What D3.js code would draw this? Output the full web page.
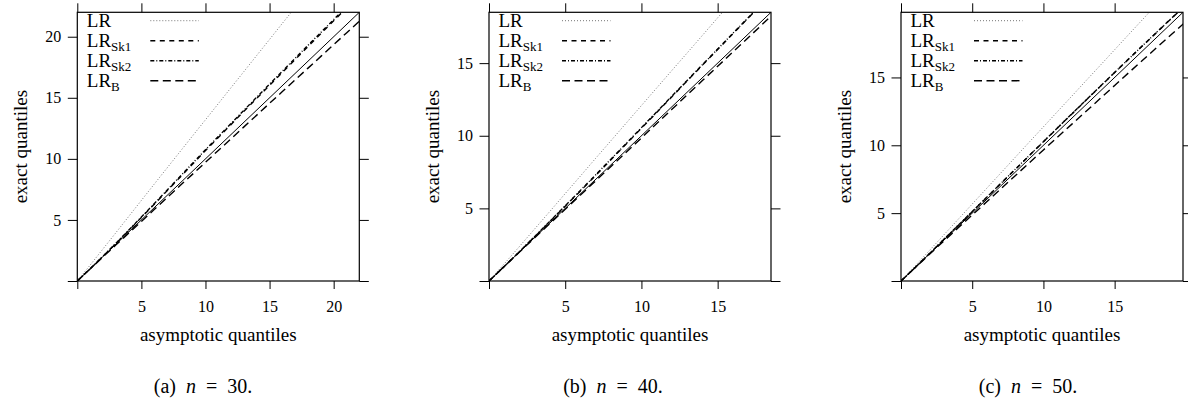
<!DOCTYPE html>
<html>
<head>
<meta charset="utf-8">
<script src="https://cdn.jsdelivr.net/npm/d3@7"></script>
<style>
  body { margin: 0; background: #fff; }
  svg { display: block; font-family: "Liberation Serif", "DejaVu Serif", serif; }
</style>
</head>
<body>
<svg id="chart" width="1188" height="404"></svg>
<script>
// panel captions / sample sizes
var panelNames = ["(a)", "(b)", "(c)"];
var sampleSizes = [30, 40, 50];
var axisMax = [22, 18.5, 19.8];
var tickValues = [[0, 5, 10, 15, 20], [0, 5, 10, 15], [0, 5, 10, 15]];

// legend
var seriesNames = ["LR", "LR_Sk1", "LR_Sk2", "LR_B"];

// n = 30 : asymptotic quantiles vs exact quantiles
var asym30 = [0, 1, 2, 3, 4, 5, 6, 7, 8, 9, 10, 11, 12, 13, 14, 15, 16, 17, 18, 19, 20, 21, 22];
var lr30   = [0, 1.30, 2.62, 3.94, 5.27, 6.60, 7.93, 9.25, 10.57, 11.89, 13.2, 14.52, 15.84, 17.15, 18.47, 19.78, 21.1, 22.4, 23.7, 25.0, 26.3, 27.6, 28.9];
var sk1_30 = [0, 1.0, 2.02, 3.06, 4.12, 5.2, 6.28, 7.38, 8.48, 9.58, 10.68, 11.75, 12.82, 13.9, 14.96, 16.02, 17.08, 18.14, 19.2, 20.25, 21.3, 22.35, 23.4];
var sk2_30 = [0, 1.0, 2.03, 3.08, 4.15, 5.24, 6.33, 7.43, 8.54, 9.65, 10.75, 11.83, 12.9, 13.98, 15.05, 16.12, 17.18, 18.24, 19.3, 20.35, 21.4, 22.45, 23.5];
var b30    = [0, 0.99, 1.97, 2.94, 3.91, 4.88, 5.85, 6.82, 7.79, 8.75, 9.72, 10.69, 11.65, 12.62, 13.58, 14.55, 15.51, 16.47, 17.43, 18.39, 19.35, 20.31, 21.27];

// n = 40
var asym40 = [0, 1, 2, 3, 4, 5, 6, 7, 8, 9, 10, 11, 12, 13, 14, 15, 16, 17, 18, 19];
var lr40   = [0, 1.18, 2.38, 3.59, 4.8, 6.02, 7.23, 8.45, 9.66, 10.87, 12.08, 13.29, 14.5, 15.7, 16.91, 18.12, 19.33, 20.5, 21.7, 22.9];
var sk1_40 = [0, 1.0, 2.02, 3.05, 4.1, 5.15, 6.2, 7.27, 8.35, 9.43, 10.52, 11.6, 12.69, 13.78, 14.86, 15.94, 17.02, 18.1, 19.18, 20.26];
var sk2_40 = [0, 1.0, 2.03, 3.07, 4.12, 5.18, 6.24, 7.31, 8.39, 9.47, 10.56, 11.64, 12.73, 13.81, 14.89, 15.97, 17.05, 18.13, 19.21, 20.29];
var b40    = [0, 1.0, 1.99, 2.98, 3.96, 4.94, 5.92, 6.9, 7.88, 8.87, 9.85, 10.84, 11.82, 12.81, 13.8, 14.78, 15.77, 16.75, 17.74, 18.72];

// n = 50
var asym50 = [0, 1, 2, 3, 4, 5, 6, 7, 8, 9, 10, 11, 12, 13, 14, 15, 16, 17, 18, 19, 20];
var lr50   = [0, 1.12, 2.25, 3.39, 4.53, 5.67, 6.81, 7.95, 9.09, 10.23, 11.36, 12.5, 13.63, 14.77, 15.9, 17.04, 18.18, 19.31, 20.45, 21.6, 22.7];
var sk1_50 = [0, 1.0, 2.02, 3.05, 4.08, 5.11, 6.14, 7.17, 8.2, 9.23, 10.26, 11.29, 12.31, 13.33, 14.35, 15.36, 16.37, 17.37, 18.37, 19.36, 20.35];
var sk2_50 = [0, 1.0, 2.03, 3.06, 4.09, 5.12, 6.15, 7.18, 8.21, 9.24, 10.27, 11.3, 12.32, 13.34, 14.36, 15.37, 16.38, 17.38, 18.38, 19.37, 20.36];
var b50    = [0, 0.99, 1.97, 2.94, 3.9, 4.86, 5.82, 6.78, 7.74, 8.7, 9.66, 10.61, 11.56, 12.51, 13.46, 14.41, 15.36, 16.3, 17.24, 18.18, 19.12];

var panels = [
  { asym: asym30, series: [lr30, sk1_30, sk2_30, b30] },
  { asym: asym40, series: [lr40, sk1_40, sk2_40, b40] },
  { asym: asym50, series: [lr50, sk1_50, sk2_50, b50] }
];

// line styles for LR, LR_Sk1, LR_Sk2, LR_B
var styles = [
  { stroke: "#666", width: 0.9, dash: "1,2" },
  { stroke: "#000", width: 1.4, dash: "5,4.5" },
  { stroke: "#000", width: 1.4, dash: "4,2,1,2" },
  { stroke: "#000", width: 1.4, dash: "8,4.5" }
];

var svg = d3.select("#chart");

var plotLefts = [77.3, 489, 901];
var captionX = [203, 613, 1028];
var plotW = 282, plotTop = 12.3, plotH = 268.7;

panels.forEach(function(p, k) {
  var L = plotLefts[k];
  var g = svg.append("g").attr("transform", "translate(" + L + "," + plotTop + ")");

  var x = d3.scaleLinear().domain([0, axisMax[k]]).range([0, plotW]);
  var y = d3.scaleLinear().domain([0, axisMax[k]]).range([plotH, 0]);

  var fmt = function(d) { return d === 0 ? "" : d; };

  // axes on all four sides, labels only left and bottom
  var xb = g.append("g").attr("transform", "translate(0," + plotH + ")")
    .call(d3.axisBottom(x).tickValues(tickValues[k]).tickFormat(fmt).tickSize(8).tickPadding(11.5));
  var xt = g.append("g")
    .call(d3.axisTop(x).tickValues(tickValues[k]).tickFormat("").tickSize(9));
  var yl = g.append("g")
    .call(d3.axisLeft(y).tickValues(tickValues[k]).tickFormat(fmt).tickSize(9.5).tickPadding(6.5));
  var yr = g.append("g").attr("transform", "translate(" + plotW + ",0)")
    .call(d3.axisRight(y).tickValues(tickValues[k]).tickFormat("").tickSize(9.5));

  [xb, xt, yl, yr].forEach(function(a) {
    a.select(".domain").remove();
    a.selectAll("line").attr("stroke", "#000").attr("stroke-width", 1);
    a.selectAll("text").attr("font-family", "Liberation Serif, serif").attr("font-size", 16).attr("fill", "#000");
  });

  // clip
  var clipId = "clip" + k;
  g.append("clipPath").attr("id", clipId)
    .append("rect").attr("width", plotW).attr("height", plotH);

  var lines = g.append("g").attr("clip-path", "url(#" + clipId + ")");

  // reference line y = x
  lines.append("line")
    .attr("x1", x(0)).attr("y1", y(0))
    .attr("x2", x(axisMax[k])).attr("y2", y(axisMax[k]))
    .attr("stroke", "#000").attr("stroke-width", 1);

  var lineGen = d3.line()
    .x(function(d) { return x(d[0]); })
    .y(function(d) { return y(d[1]); });

  p.series.forEach(function(s, i) {
    var pts = p.asym.map(function(a, j) { return [a, s[j]]; });
    lines.append("path")
      .datum(pts)
      .attr("d", lineGen)
      .attr("fill", "none")
      .attr("stroke", styles[i].stroke)
      .attr("stroke-width", styles[i].width)
      .attr("stroke-dasharray", styles[i].dash);
  });

  // box
  g.append("rect").attr("width", plotW).attr("height", plotH)
    .attr("fill", "none").attr("stroke", "#000").attr("stroke-width", 1.2);

  // legend
  var leg = g.append("g");
  seriesNames.forEach(function(name, i) {
    var ly = 8.4 + 20 * i;
    var parts = name.split("_");
    var t = leg.append("text")
      .attr("x", 9.5).attr("y", ly + 6.5)
      .attr("font-size", 19);
    t.append("tspan").text(parts[0]);
    if (parts[1]) {
      t.append("tspan").attr("font-size", 13).attr("dy", 3.5).text(parts[1]);
    }
    leg.append("line")
      .attr("x1", 73).attr("x2", 121.5)
      .attr("y1", ly).attr("y2", ly)
      .attr("stroke", styles[i].stroke)
      .attr("stroke-width", styles[i].width)
      .attr("stroke-dasharray", styles[i].dash);
  });

  // axis titles
  g.append("text")
    .attr("x", plotW / 2).attr("y", 341.5 - plotTop)
    .attr("text-anchor", "middle").attr("font-size", 19)
    .text("asymptotic quantiles");
  g.append("text")
    .attr("transform", "translate(-50," + (plotH / 2) + ") rotate(-90)")
    .attr("text-anchor", "middle").attr("font-size", 19)
    .text("exact quantiles");

  // caption
  var cap = svg.append("text")
    .attr("x", captionX[k]).attr("y", 393)
    .attr("text-anchor", "middle").attr("font-size", 20)
    .attr("xml:space", "preserve");
  cap.append("tspan").text(panelNames[k] + "  ");
  cap.append("tspan").attr("font-style", "italic").text("n");
  cap.append("tspan").text("  =  " + sampleSizes[k] + ".");
});
</script>
</body>
</html>
